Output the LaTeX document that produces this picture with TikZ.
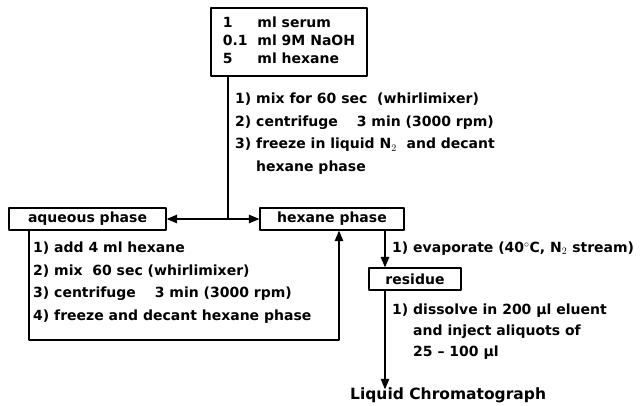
\documentclass[tikz,border=0pt]{standalone}
\usepackage{fontspec}
\setmainfont{DejaVu Sans}
\usetikzlibrary{arrows}

\begin{document}
\begin{tikzpicture}[line cap=round,line join=round,>=triangle 45,x=1pt,y=-1pt,
  box/.style={draw,line width=1.4pt,inner sep=0pt,minimum height=22pt,
    font=\bfseries\fontsize{14}{18}\selectfont},
  steps/.style={anchor=north west,align=left,inner sep=0pt,
    font=\bfseries\fontsize{14}{22.5}\selectfont},
  link/.style={line width=1.4pt}]
\useasboundingbox (0,0) rectangle (642,405);

%kaavion laatikot
\node [box,minimum width=156pt,minimum height=68pt] (mix) at (289,42)
  {\begin{tabular}{@{}l@{\ \ }l@{}}1 & ml serum\\ 0.1 & ml 9M NaOH\\ 5 & ml hexane\end{tabular}};
\node [box,minimum width=157pt] (aq) at (87.5,219) {aqueous phase};
\node [box,minimum width=144pt] (hex) at (332,219) {hexane phase};
\node [box,minimum width=92pt] (res) at (415,279) {residue};
\node [anchor=west,inner sep=0pt,font=\bfseries\fontsize{15.5}{18}\selectfont] (lc) at (350,395) {Liquid Chromatograph};

%vaiheet
\node [steps] (mixsteps) at (235,93) {1) mix for 60 sec \ (whirlimixer)\\
  2) centrifuge \quad 3 min (3000 rpm)\\
  3) freeze in liquid N$_2$ \ and decant\\
  \phantom{3) }hexane phase};
\node [steps] (aqsteps) at (33,242) {1) add 4 ml hexane\\
  2) mix \ 60 sec (whirlimixer)\\
  3) centrifuge \quad 3 min (3000 rpm)\\
  4) freeze and decant hexane phase};
\node [steps] (evap) at (392,242) {1) evaporate (40$^{\circ}$C, N$_2$ stream)};
\node [steps,font=\bfseries\fontsize{14}{21}\selectfont] (diss) at (392,304) {1) dissolve in 200 µl eluent\\
  \phantom{1) }and inject aliquots of\\
  \phantom{1) }25 -- 100 µl};

%yhdyspisteet
\coordinate (j) at (228,219);
\coordinate (lp1) at (29,340);
\coordinate (lp2) at (339,340);
\coordinate (ev) at (385,0);

%viivat
\draw [link] (j |- mix.south) -- (j);
\draw [link,->] (j) -- (aq.east);
\draw [link,->] (j) -- (hex.west);
\draw [link,->] (aq.south -| lp1) -- (lp1) -- (lp2) -- (lp2 |- hex.south);
\draw [link,->] (hex.south -| ev) -- (res.north -| ev);
\draw [link,->] (res.south -| ev) -- ([yshift=-2pt]lc.north -| ev);
\end{tikzpicture}
\end{document}
